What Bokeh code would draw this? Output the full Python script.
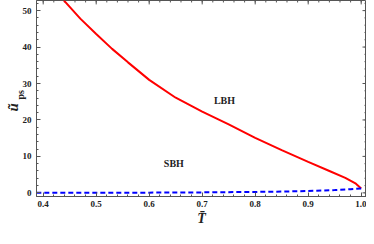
from bokeh.plotting import figure
from bokeh.models import Range1d, LinearAxis, Label, FixedTicker, Title
from bokeh.embed import file_html
from bokeh.resources import INLINE

# LBH branch (red, solid)
T_lbh = [0.4389, 0.47, 0.50, 0.53, 0.56, 0.60, 0.65, 0.70, 0.75, 0.80, 0.85, 0.90, 0.94, 0.97, 0.99, 1.0]
u_lbh = [52.8, 47.8, 43.6, 39.5, 35.8, 31.0, 26.1, 22.3, 18.8, 15.1, 11.7, 8.5, 6.0, 4.1, 2.5, 1.2]
# SBH branch (blue, dashed)
T_sbh = [0.387, 0.45, 0.50, 0.60, 0.70, 0.80, 0.85, 0.90, 0.95, 0.98, 1.0]
u_sbh = [0.0, 0.01, 0.02, 0.06, 0.13, 0.25, 0.35, 0.5, 0.75, 1.0, 1.2]

x_ticks = [0.4, 0.5, 0.6, 0.7, 0.8, 0.9, 1.0]
x_tick_labels = ["0.4", "0.5", "0.6", "0.7", "0.8", "0.9", "1.0"]
x_minor = [round(0.38 + 0.02 * i, 3) for i in range(33)]
y_ticks = [0, 10, 20, 30, 40, 50]
y_minor = [2 * i for i in range(0, 27)]

FONT = "Liberation Serif"
AX = "#555555"
TXT = "#222222"
X0, X1 = 0.38736, 1.01
Y0, Y1 = -1.0, 52.77
W, H = 366, 228
BL, BB = 36, 28
px_x = (X1 - X0) / (W - BL)
px_y = (Y1 - Y0) / (H - BB)

p = figure(width=W, height=H, output_backend="svg", toolbar_location=None,
           x_range=Range1d(X0, X1), y_range=Range1d(Y0, Y1),
           x_axis_location=None, y_axis_location=None,
           min_border_left=BL, min_border_right=0, min_border_top=0, min_border_bottom=0)
p.grid.visible = False
p.outline_line_color = AX
p.background_fill_color = "white"


def style(ax):
    ax.axis_line_color = AX
    ax.major_tick_line_color = AX
    ax.minor_tick_line_color = AX
    ax.major_tick_in = 4
    ax.major_tick_out = 0
    ax.minor_tick_in = 2
    ax.minor_tick_out = 0
    ax.major_label_text_font = FONT
    ax.major_label_text_font_style = "bold"
    ax.major_label_text_color = TXT
    ax.major_label_text_font_size = "9px"


bottom = LinearAxis(ticker=FixedTicker(ticks=x_ticks, minor_ticks=x_minor), axis_label="T\u0304")
style(bottom)
bottom.major_label_overrides = {t: l for t, l in zip(x_ticks, x_tick_labels)}
bottom.major_label_standoff = 4
bottom.axis_label_text_font = FONT
bottom.axis_label_text_font_style = "bold italic"
bottom.axis_label_text_font_size = "14px"
bottom.axis_label_text_color = TXT
bottom.axis_label_standoff = 1
p.add_layout(bottom, "below")

left = LinearAxis(ticker=FixedTicker(ticks=y_ticks, minor_ticks=y_minor))
style(left)
left.major_label_standoff = 5
p.add_layout(left, "left")

# y-axis title: u-tilde with subscript "ps" (rotated side titles)
p.add_layout(Title(text="ps", text_font=FONT, text_font_style="bold", text_font_size="10px",
                   text_color=TXT, align="left", offset=97, standoff=-12), "left")
p.add_layout(Title(text="\u0169", text_font=FONT, text_font_style="bold italic", text_font_size="15px",
                   text_color=TXT, align="left", offset=85, standoff=-4), "left")

# inward frame ticks on the top and right edges
p.segment(x0=x_ticks, y0=[Y1] * len(x_ticks), x1=x_ticks, y1=[Y1 - 4 * px_y] * len(x_ticks),
          line_color=AX, line_width=1)
p.segment(x0=x_minor, y0=[Y1] * len(x_minor), x1=x_minor, y1=[Y1 - 2 * px_y] * len(x_minor),
          line_color=AX, line_width=1)
p.segment(x0=[X1] * len(y_ticks), y0=y_ticks, x1=[X1 - 4 * px_x] * len(y_ticks), y1=y_ticks,
          line_color=AX, line_width=1)
p.segment(x0=[X1] * len(y_minor), y0=y_minor, x1=[X1 - 2 * px_x] * len(y_minor), y1=y_minor,
          line_color=AX, line_width=1)

p.line(T_lbh, u_lbh, line_color="#ff0000", line_width=2)
p.line(T_sbh, u_sbh, line_color="#0000ff", line_width=2, line_dash="5 3")

for txt, x, y in [("LBH", 0.742, 25.2), ("SBH", 0.6465, 8.0)]:
    p.add_layout(Label(x=x, y=y, text=txt, text_font=FONT, text_font_style="bold",
                       text_font_size="10px", text_color=TXT,
                       text_align="center", text_baseline="middle"))

open("out.html", "w").write(file_html(p, INLINE))
